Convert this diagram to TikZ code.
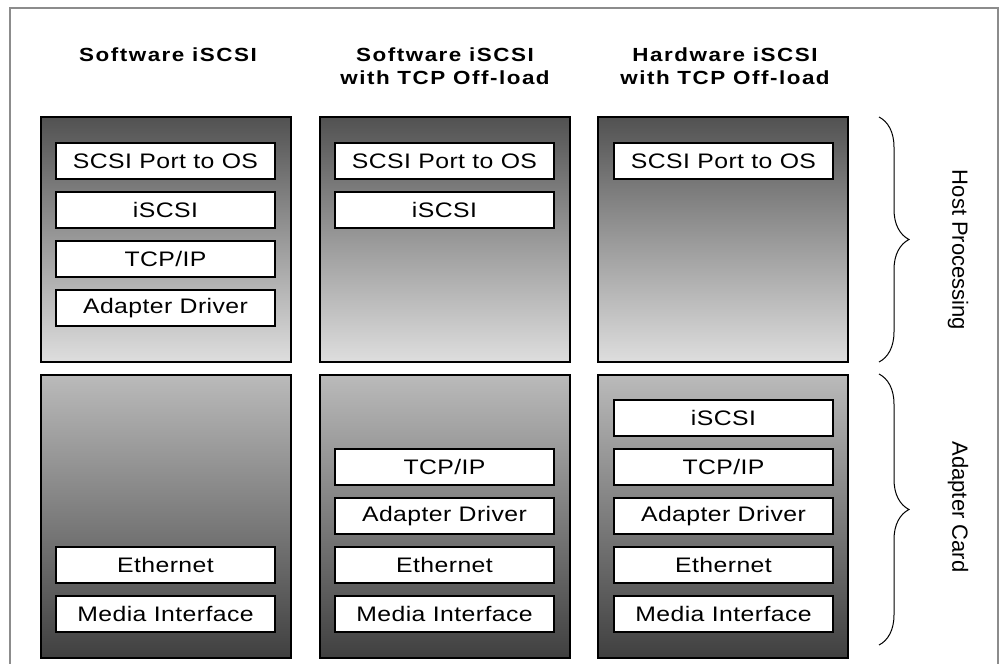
\documentclass[tikz,border=0pt]{standalone}
\usepackage{fontspec}
\setmainfont{Liberation Sans}
\newfontfamily\boxfont{Liberation Sans}[FakeStretch=1.18, LetterSpace=2]
\newfontfamily\headfont{Liberation Sans Bold}[FakeStretch=1.18, LetterSpace=8]
\usetikzlibrary{decorations.pathreplacing}
\begin{document}
\begin{tikzpicture}[x=1pt,y=-1pt,
  hostbox/.style={draw=black, line width=2.6pt, top color=black!68, bottom color=black!13, middle color=black!40},
  cardbox/.style={draw=black, line width=2.6pt, top color=black!27, bottom color=black!75},
  layer/.style={draw=black, line width=2.6pt, fill=white, minimum width=219pt, minimum height=36pt, inner sep=0pt, font=\boxfont\fontsize{21}{22}\selectfont},
  head/.style={font=\headfont\fontsize{19}{23}\selectfont, align=center},
  side/.style={font=\fontsize{22}{24}\selectfont, rotate=-90},
  brc/.style={decorate, decoration={brace, amplitude=30pt}, line width=1pt}]
\useasboundingbox (0,0) rectangle (1002,664);
% outer frame
\draw[black!45, line width=2pt] (10,664) -- (10,8) -- (998,8) -- (998,664);
% headers
\node[head] (h1) at (168,55) {Software iSCSI};
\node[head] (h2) at (445,66) {Software iSCSI\\with TCP Off-load};
\node[head] (h3) at (725,66) {Hardware iSCSI\\with TCP Off-load};
% column boxes
\foreach \c/\x in {1/41,2/320,3/598}{
  \path[hostbox] (\x,117) rectangle ++(250,245);
  \path[cardbox] (\x,375) rectangle ++(250,283);
}
% column 1
\node[layer] (a1) at (165.5,161) {SCSI Port to OS};
\node[layer] (a2) at (165.5,210) {iSCSI};
\node[layer] (a3) at (165.5,259) {TCP/IP};
\node[layer] (a4) at (165.5,308) {Adapter Driver};
\node[layer] (a5) at (165.5,565) {Ethernet};
\node[layer] (a6) at (165.5,614) {Media Interface};
% column 2
\node[layer] (b1) at (444.5,161) {SCSI Port to OS};
\node[layer] (b2) at (444.5,210) {iSCSI};
\node[layer] (b3) at (444.5,467) {TCP/IP};
\node[layer] (b4) at (444.5,516) {Adapter Driver};
\node[layer] (b5) at (444.5,565) {Ethernet};
\node[layer] (b6) at (444.5,614) {Media Interface};
% column 3
\node[layer] (c1) at (723.5,161) {SCSI Port to OS};
\node[layer] (c2) at (723.5,418) {iSCSI};
\node[layer] (c3) at (723.5,467) {TCP/IP};
\node[layer] (c4) at (723.5,516) {Adapter Driver};
\node[layer] (c5) at (723.5,565) {Ethernet};
\node[layer] (c6) at (723.5,614) {Media Interface};
% braces
\coordinate (hb1) at (879,117);
\coordinate (hb2) at (879,362);
\coordinate (cb1) at (879,374);
\coordinate (cb2) at (879,645);
\draw[brc] (hb1) -- (hb2);
\draw[brc] (cb1) -- (cb2);
\node[side] (hp) at (958,250) {Host Processing};
\node[side] (ac) at (958,507) {Adapter Card};
\end{tikzpicture}
\end{document}
